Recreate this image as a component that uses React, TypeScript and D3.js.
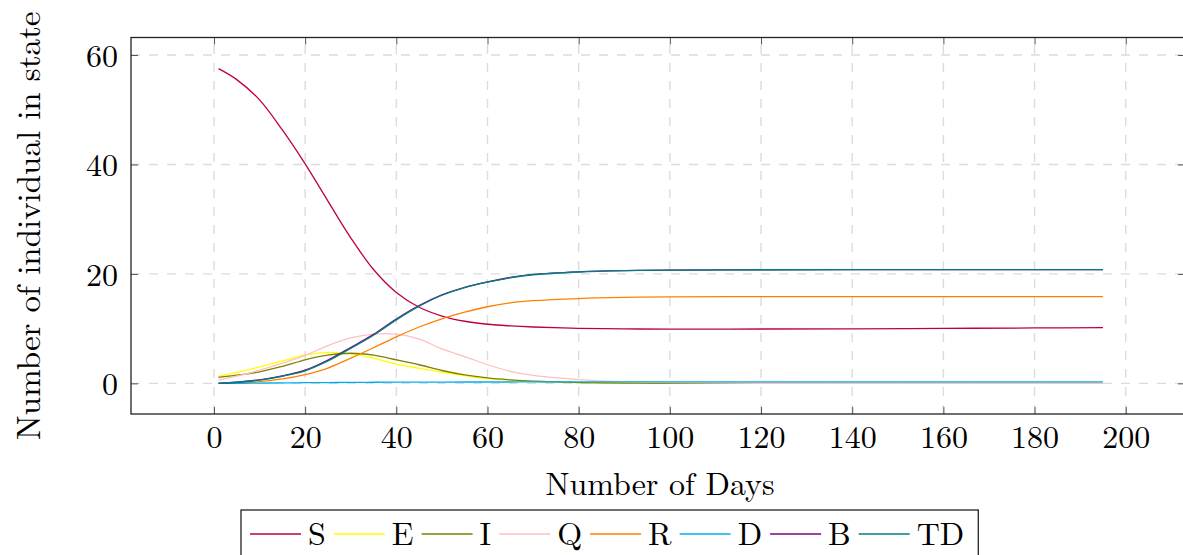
import React, { useEffect, useRef } from 'react';
import * as d3 from 'd3';

const days = [1, 5, 10, 15, 20, 25, 30, 35, 40, 45, 50, 55, 60, 65, 70, 80, 90, 100, 120, 140, 160, 180, 195];

const sValues = [57.5, 55.5, 51.8, 46.3, 40.1, 33.3, 26.6, 20.8, 16.6, 13.9, 12.3, 11.35, 10.8, 10.5, 10.3, 10.05, 9.95, 9.92, 9.93, 9.97, 10.05, 10.12, 10.2];
const eValues = [1.3, 2.0, 3.0, 4.1, 5.2, 5.65, 5.4, 4.6, 3.5, 2.75, 2.05, 1.4, 0.85, 0.55, 0.35, 0.12, 0.04, 0.01, 0, 0, 0, 0, 0];
const iValues = [1.1, 1.5, 2.1, 3.1, 4.3, 5.15, 5.5, 5.15, 4.3, 3.4, 2.35, 1.55, 1.0, 0.65, 0.4, 0.15, 0.05, 0.01, 0, 0, 0, 0, 0];
const qValues = [0.6, 1.3, 2.4, 3.7, 5.1, 6.9, 8.3, 9.0, 9.0, 8.1, 6.3, 4.9, 3.4, 2.2, 1.45, 0.7, 0.3, 0.12, 0.02, 0, 0, 0, 0];
const rValues = [0, 0.05, 0.3, 0.8, 1.6, 2.8, 4.6, 6.5, 8.5, 10.3, 11.8, 13.0, 14.0, 14.7, 15.1, 15.5, 15.7, 15.8, 15.85, 15.85, 15.85, 15.85, 15.85];
const dValues = [0, 0.02, 0.05, 0.08, 0.12, 0.15, 0.18, 0.2, 0.22, 0.23, 0.24, 0.25, 0.25, 0.25, 0.26, 0.26, 0.26, 0.26, 0.26, 0.26, 0.26, 0.26, 0.26];
const bValues = [0, 0.2, 0.65, 1.35, 2.4, 4.25, 6.55, 8.95, 11.75, 14.2, 16.15, 17.55, 18.55, 19.35, 19.9, 20.38, 20.6, 20.7, 20.76, 20.79, 20.8, 20.8, 20.8];
const tdValues = [0, 0.2, 0.6, 1.3, 2.3, 4.1, 6.4, 8.8, 11.6, 14.1, 16.1, 17.5, 18.5, 19.3, 19.85, 20.35, 20.6, 20.7, 20.76, 20.79, 20.8, 20.8, 20.8];

const seriesNames = ['S', 'E', 'I', 'Q', 'R', 'D', 'B', 'TD'];
const seriesValues = [sValues, eValues, iValues, qValues, rValues, dValues, bValues, tdValues];
const seriesColors = ['#bf0040', '#ffff00', '#808000', '#ffbfbf', '#ff8000', '#00aeef', '#800080', '#008080'];

const xTicks = [0, 20, 40, 60, 80, 100, 120, 140, 160, 180, 200];
const yTicks = [0, 20, 40, 60];

const FONT = "'Latin Modern Roman', 'Liberation Serif', 'Times New Roman', serif";
const W = 1183;
const H = 555;

export default function App() {
    const ref = useRef<SVGSVGElement>(null);

    useEffect(() => {
        document.body.style.margin = '0';
        const svg = d3.select(ref.current);
        svg.selectAll('*').remove();

        const left = 131, right = 1185, top = 37.5, bottom = 414;
        const x = d3.scaleLinear().domain([-18.2, 213]).range([left, right]);
        const y = d3.scaleLinear().domain([-5.6, 63.2]).range([bottom, top]);

        // grid
        const grid = svg.append('g')
            .attr('stroke', '#dcdcdc')
            .attr('stroke-width', 1.4)
            .attr('stroke-dasharray', '9,9');
        grid.selectAll('.gx').data(xTicks).enter().append('line')
            .attr('x1', d => x(d)).attr('x2', d => x(d))
            .attr('y1', bottom).attr('y2', top);
        grid.selectAll('.gy').data(yTicks).enter().append('line')
            .attr('y1', d => y(d)).attr('y2', d => y(d))
            .attr('x1', left).attr('x2', right);

        // axes (ticks inside the frame, on all four sides)
        const styleAxis = (g: any) => {
            g.select('.domain').remove();
            g.selectAll('.tick line').attr('stroke', '#555').attr('stroke-width', 1);
            g.selectAll('.tick text')
                .attr('fill', '#000')
                .style('font-family', FONT)
                .style('font-size', '32px');
        };
        svg.append('g').attr('transform', `translate(0,${bottom})`)
            .call(d3.axisBottom(x).tickValues(xTicks).tickSizeInner(-7).tickSizeOuter(0).tickPadding(11))
            .call(styleAxis);
        svg.append('g').attr('transform', `translate(0,${top})`)
            .call(d3.axisTop(x).tickValues(xTicks).tickSizeInner(-7).tickSizeOuter(0).tickFormat(() => ''))
            .call(styleAxis);
        svg.append('g').attr('transform', `translate(${left},0)`)
            .call(d3.axisLeft(y).tickValues(yTicks).tickSizeInner(-7).tickSizeOuter(0).tickPadding(13))
            .call(styleAxis)
            .selectAll('.tick text').attr('dy', '0.36em');
        svg.append('g').attr('transform', `translate(${right},0)`)
            .call(d3.axisRight(y).tickValues(yTicks).tickSizeInner(-7).tickSizeOuter(0).tickFormat(() => ''))
            .call(styleAxis);

        // curves
        svg.append('clipPath').attr('id', 'plot-clip')
            .append('rect')
            .attr('x', left).attr('y', top)
            .attr('width', right - left).attr('height', bottom - top);

        const line = d3.line<number>()
            .x((d, i) => x(days[i]))
            .y(d => y(d))
            .curve(d3.curveCatmullRom.alpha(0.5));

        svg.append('g').attr('clip-path', 'url(#plot-clip)')
            .selectAll('path')
            .data(seriesValues)
            .enter()
            .append('path')
            .attr('d', d => line(d))
            .attr('fill', 'none')
            .attr('stroke', (d, i) => seriesColors[i])
            .attr('stroke-width', 1.3);

        // frame
        svg.append('rect')
            .attr('x', left).attr('y', top)
            .attr('width', right - left).attr('height', bottom - top)
            .attr('fill', 'none')
            .attr('stroke', '#222')
            .attr('stroke-width', 1.3);

        // axis titles
        svg.append('text')
            .attr('x', (left + right) / 2 + 2)
            .attr('y', 495)
            .attr('text-anchor', 'middle')
            .style('font-family', FONT)
            .style('font-size', '32px')
            .text('Number of Days');

        svg.append('text')
            .attr('transform', `translate(40,${(top + bottom) / 2}) rotate(-90)`)
            .attr('text-anchor', 'middle')
            .style('font-family', FONT)
            .style('font-size', '33px')
            .text('Number of individual in state');

        // legend
        const legend = svg.append('g');
        const box = legend.append('rect')
            .attr('fill', '#fff')
            .attr('stroke', '#222')
            .attr('stroke-width', 1.3);
        let cx = 250;
        seriesNames.forEach((name, i) => {
            legend.append('line')
                .attr('x1', cx).attr('x2', cx + 51)
                .attr('y1', 534).attr('y2', 534)
                .attr('stroke', seriesColors[i])
                .attr('stroke-width', 1.3);
            const t = legend.append('text')
                .attr('x', cx + 58)
                .attr('y', 545)
                .style('font-family', FONT)
                .style('font-size', '32px')
                .text(name);
            const w = (t.node() as SVGTextElement).getComputedTextLength();
            cx = cx + 58 + w + 8;
        });
        box.attr('x', 241).attr('y', 510)
            .attr('width', cx + 6 - 241)
            .attr('height', 60);
    }, []);

    return (
        <div>
            <svg ref={ref} width={W} height={H} style={{ display: 'block', background: '#fff' }}></svg>
        </div>
    );
}
